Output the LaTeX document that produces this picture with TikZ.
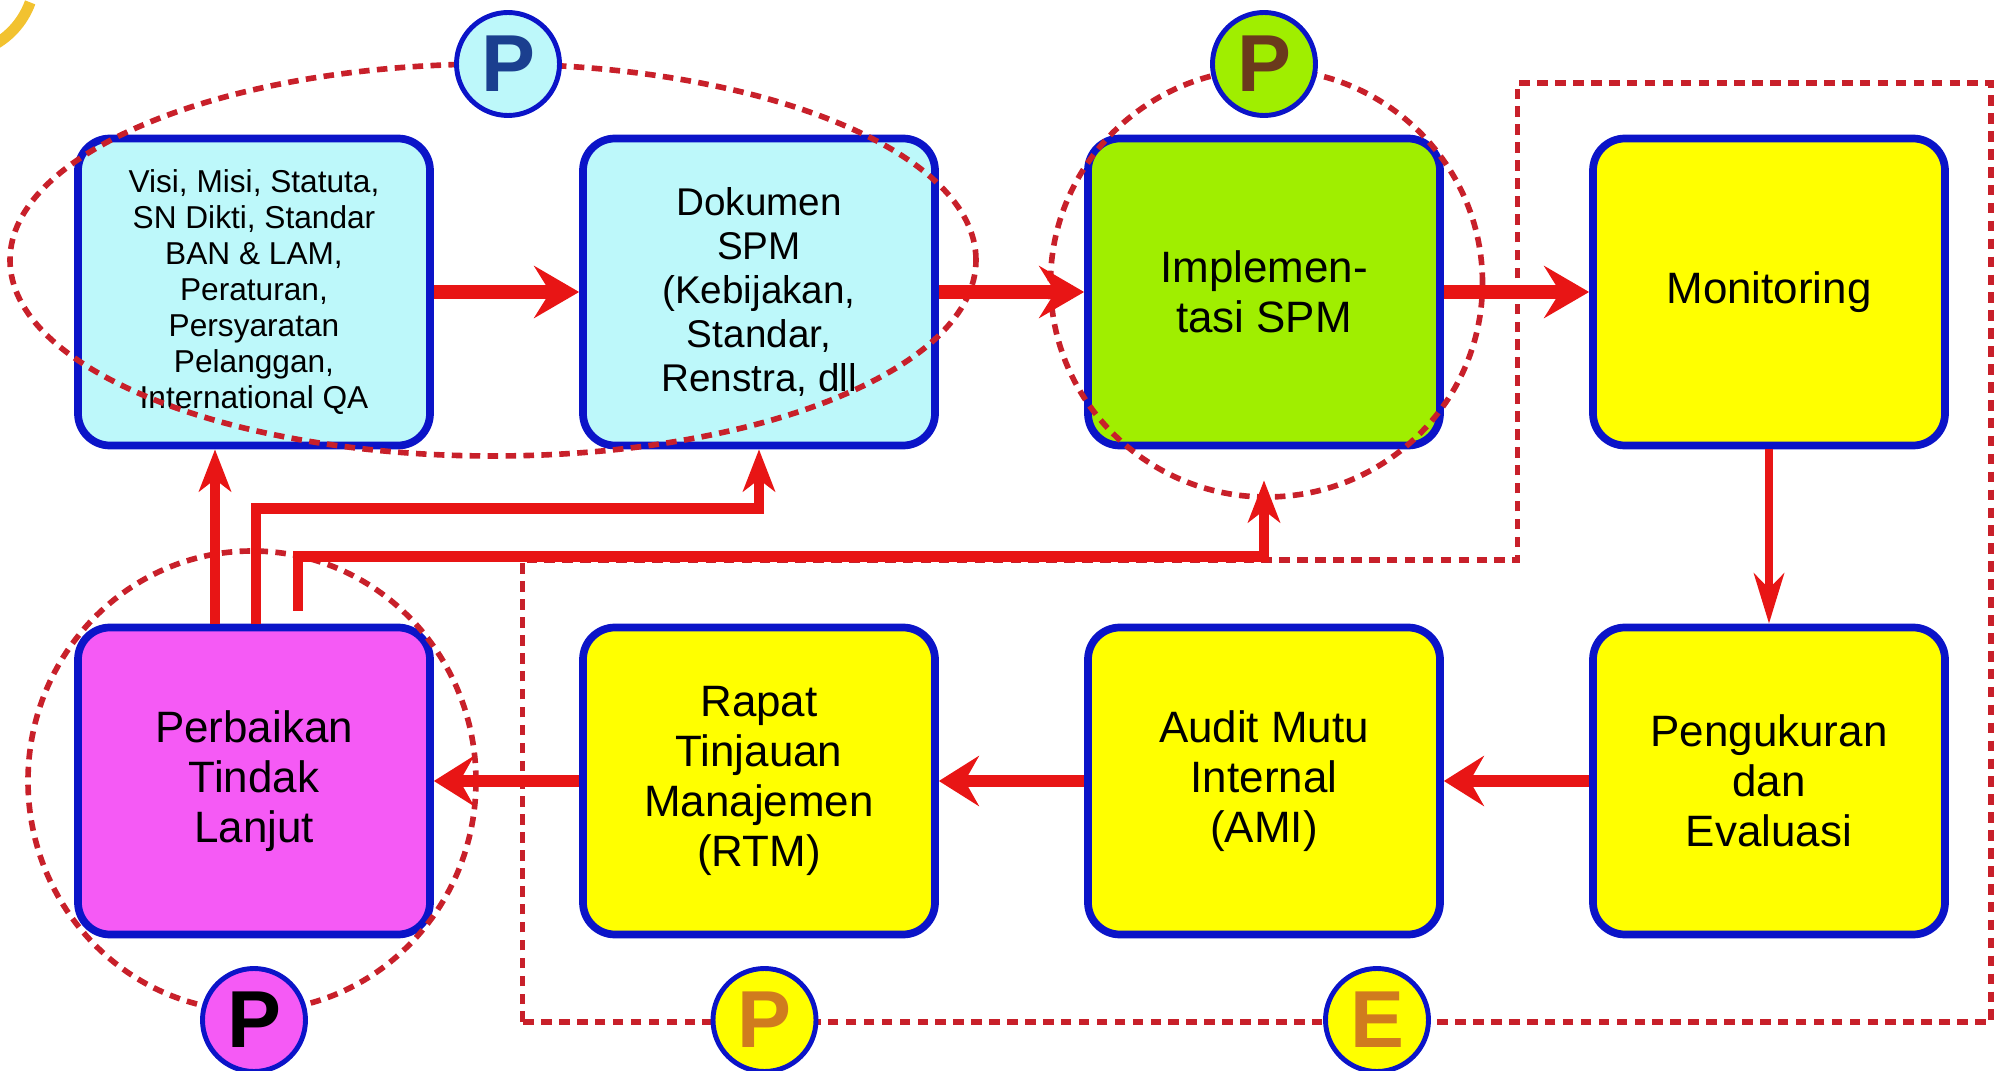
\documentclass[tikz,border=0pt]{standalone}
\usepackage{fontspec}
\setmainfont{Liberation Sans}
\usetikzlibrary{arrows.meta}
\definecolor{spmblue}{HTML}{0B14C8}
\definecolor{spmcyan}{HTML}{BDF8FA}
\definecolor{spmgreen}{HTML}{A0EE00}
\definecolor{spmyellow}{HTML}{FFFF00}
\definecolor{spmpink}{HTML}{F55AF5}
\definecolor{spmred}{HTML}{E81515}
\definecolor{spmdash}{HTML}{C8202A}
\definecolor{spmnavy}{HTML}{1B3F8F}
\definecolor{spmbrown}{HTML}{6A3A1C}
\definecolor{spmorange}{HTML}{D07C1E}
\definecolor{spmgold}{HTML}{F2C230}

\tikzset{
  stage/.style={draw=spmblue, line width=2.2pt, rounded corners=0.32cm,
    minimum width=3.52cm, minimum height=3.07cm, align=center, inner sep=2pt,
    font=\fontsize{12.5}{14.3}\selectfont},
  badge/.style={circle, draw=spmblue, line width=1.4pt, minimum size=1.03cm,
    inner sep=0pt, font=\fontsize{23}{23}\selectfont\bfseries},
  cycleline/.style={spmdash, line width=1.6pt, dash pattern=on 3pt off 2.1pt},
  flow/.style={spmred, line width=4pt, -{Stealth[length=0.45cm, width=0.52cm, inset=0.16cm]}},
  flowback/.style={spmred, line width=3.5pt, -{Stealth[length=0.40cm, width=0.50cm, inset=0.14cm]}},
  feed/.style={spmred, line width=3.1pt, -{Stealth[length=0.42cm, width=0.32cm, inset=0.12cm]}},
}

\begin{document}
\begin{tikzpicture}
  \useasboundingbox (0,0) rectangle (20.08,10.70);
  % corner ornament
  \draw[spmgold, line width=0.11cm] (-0.45,10.95) ++(-20:0.8) arc[start angle=-20, end angle=-110, radius=0.8];

  % top row: planning and doing
  \node[stage, fill=spmcyan, font=\fontsize{9}{10.2}\selectfont] (visi) at (2.54,7.78)
    {Visi, Misi, Statuta,\\SN Dikti, Standar\\BAN \& LAM,\\Peraturan,\\Persyaratan\\Pelanggan,\\International QA};
  \node[stage, fill=spmcyan, font=\fontsize{11}{12.5}\selectfont] (dok) at (7.59,7.78)
    {Dokumen\\SPM\\(Kebijakan,\\Standar,\\Renstra, dll};
  \node[stage, fill=spmgreen] (impl) at (12.64,7.78) {Implemen-\\tasi SPM};
  \node[stage, fill=spmyellow] (moni) at (17.69,7.78) {Monitoring};

  % bottom row: evaluation and follow-up
  \node[stage, fill=spmpink] (perb) at (2.54,2.89) {Perbaikan\\Tindak\\Lanjut};
  \node[stage, fill=spmyellow] (rtm) at (7.59,2.89) {Rapat\\Tinjauan\\Manajemen\\(RTM)};
  \node[stage, fill=spmyellow] (ami) at (12.64,2.89) {Audit Mutu\\Internal\\(AMI)};
  \node[stage, fill=spmyellow] (ukur) at (17.69,2.89) {Pengukuran\\dan\\Evaluasi};

  % dashed groupings
  \draw[cycleline] (4.93,8.10) ellipse [x radius=4.83, y radius=1.96];
  \draw[cycleline] (12.665,7.87) ellipse [x radius=2.16, y radius=2.14];
  \draw[cycleline] (2.52,2.89) ellipse [x radius=2.24, y radius=2.30];
  \draw[cycleline] (5.225,0.48) -- (5.225,5.10) -- (15.175,5.10) -- (15.175,9.87)
    -- (19.91,9.87) -- (19.91,0.48) -- cycle;

  % main cycle
  \draw[flow] (visi) -- (dok);
  \draw[flow] (dok) -- (impl);
  \draw[flow] (impl) -- (moni);
  \draw[flow, line width=2.3pt, -{Stealth[length=0.5cm, width=0.3cm, inset=0.15cm]}] (moni) -- (ukur);
  \draw[flowback] (ukur) -- (ami);
  \draw[flowback] (ami) -- (rtm);
  \draw[flowback] (rtm) -- (perb);

  % follow-up feedback
  \draw[feed] ([xshift=-0.39cm]perb.north) -- ([xshift=-0.39cm]visi.south);
  \draw[feed] ([xshift=0.02cm]perb.north) -- ++(0,1.155) -| (dok.south);
  \draw[feed] ([xshift=0.44cm,yshift=0.13cm]perb.north) -- ++(0,0.545) -| ([yshift=-0.31cm]impl.south);

  % PPEPP badges
  \node[badge, fill=spmcyan, text=spmnavy] (pplan) at (5.08,10.06) {P};
  \node[badge, fill=spmgreen, text=spmbrown] (pdo) at (12.64,10.06) {P};
  \node[badge, fill=spmpink, text=black] (pact) at (2.54,0.50) {P};
  \node[badge, fill=spmyellow, text=spmorange] (pctl) at (7.645,0.50) {P};
  \node[badge, fill=spmyellow, text=spmorange] (peval) at (13.77,0.50) {E};
\end{tikzpicture}
\end{document}
